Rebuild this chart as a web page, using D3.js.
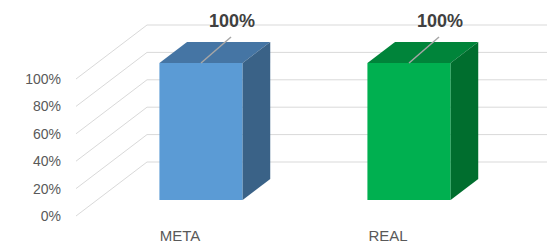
<!DOCTYPE html>
<html><head><meta charset="utf-8">
<script src="https://cdn.jsdelivr.net/npm/d3@7"></script>
<style>body{margin:0;background:#fff}svg{display:block}</style>
</head><body>
<svg id="c" width="547" height="245"></svg>
<script>
const categories = ["META", "REAL"];
const values = [1.0, 1.0];
const valueLabels = ["100%", "100%"];
const tickValues = [0, 0.2, 0.4, 0.6, 0.8, 1.0];
const frontColors = ["#5B9BD5", "#00B050"];
const topColors = ["#4575A4", "#00843A"];
const sideColors = ["#3A6287", "#006E2E"];

const svg = d3.select("#c");
const W = 547;
const depthX = 71, depthY = -54;       // projection of full depth
const barZ0 = 0.296, barZ1 = 0.685;    // bar depth extent
const y = d3.scaleLinear().domain([0, 1]).range([216, 79]);
const x = d3.scaleBand().domain(categories).range([76, 492]);
const barW = x.bandwidth() * 0.4;
const P = (px, v, z) => [px + z * depthX, y(v) + z * depthY];

// gridlines: diagonal side + back wall
const g = svg.append("g");
tickValues.forEach(t => {
  const a = P(76, t, 0), b = P(76, t, 1);
  g.append("line").attr("x1", a[0]).attr("y1", a[1]).attr("x2", b[0]).attr("y2", b[1])
    .attr("stroke", "#d9d9d9").attr("stroke-width", 1);
  g.append("line").attr("x1", b[0]).attr("y1", b[1]).attr("x2", W).attr("y2", b[1])
    .attr("stroke", "#d9d9d9").attr("stroke-width", 1);
});

// y tick labels
svg.append("g").selectAll("text").data(tickValues).join("text")
  .attr("x", 61).attr("y", d => y(d)).attr("dy", "0.35em")
  .attr("text-anchor", "end")
  .attr("font-family", "Liberation Sans, Arial, sans-serif").attr("font-size", 14)
  .attr("fill", "#595959")
  .text(d => d3.format(".0%")(d));

// bars
const poly = pts => pts.map(p => p.join(",")).join(" ");
categories.forEach((c, i) => {
  const cx = x(c) + x.bandwidth() / 2;
  const xl = cx - barW / 2, xr = cx + barW / 2;
  const v = values[i];
  const bg = svg.append("g");
  // front
  bg.append("polygon").attr("points", poly([P(xl, 0, barZ0), P(xr, 0, barZ0), P(xr, v, barZ0), P(xl, v, barZ0)]))
    .attr("fill", frontColors[i]);
  // top
  bg.append("polygon").attr("points", poly([P(xl, v, barZ0), P(xr, v, barZ0), P(xr, v, barZ1), P(xl, v, barZ1)]))
    .attr("fill", topColors[i]);
  // side
  bg.append("polygon").attr("points", poly([P(xr, 0, barZ0), P(xr, 0, barZ1), P(xr, v, barZ1), P(xr, v, barZ0)]))
    .attr("fill", sideColors[i]);
  // leader line + label
  const s = P(cx, v, barZ0);
  bg.append("line").attr("x1", s[0]).attr("y1", s[1]).attr("x2", s[0] + 30).attr("y2", s[1] - 26)
    .attr("stroke", "#a6a6a6").attr("stroke-width", 1.5);
  bg.append("text").attr("x", s[0] + 31).attr("y", s[1] - 36)
    .attr("text-anchor", "middle")
    .attr("font-family", "Liberation Sans, Arial, sans-serif").attr("font-size", 18)
    .attr("font-weight", "bold").attr("fill", "#404040")
    .text(valueLabels[i]);
  // category label
  svg.append("text").attr("x", cx).attr("y", 236).attr("dy", "0.35em")
    .attr("text-anchor", "middle")
    .attr("font-family", "Liberation Sans, Arial, sans-serif").attr("font-size", 15)
    .attr("fill", "#595959")
    .text(c);
});
</script>
</body></html>
